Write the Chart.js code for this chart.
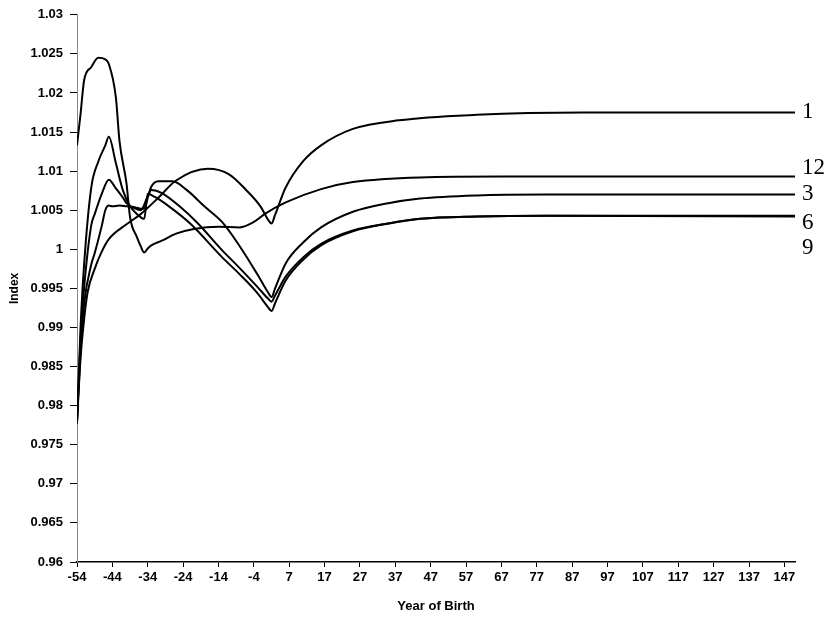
<!DOCTYPE html>
<html>
<head>
<meta charset="utf-8">
<script src="https://cdn.jsdelivr.net/npm/chart.js@4/dist/chart.umd.min.js"></script>
<style>
  html, body { margin: 0; padding: 0; background: #fff; }
  canvas { display: block; }
</style>
</head>
<body>
<canvas id="myChart" width="829" height="618"></canvas>
<script>
// year of birth tick labels (there is no year 0 on the axis)
const xTickLabels = [-54,-44,-34,-24,-14,-4,7,17,27,37,47,57,67,77,87,97,107,117,127,137,147];
const yMin = 0.96, yMax = 1.03, yStep = 0.005;

// series "1"
const years1 = [-54,-53,-52,-51,-49,-47,-45,-40,-36,-31,-26,-17,-11,-6,-2,1,2,3,6,11,16,25,38,60,90,150];
const vals1  = [0.978,0.986,0.991,0.9945,0.9975,0.9997,1.0013,1.0032,1.0045,1.0066,1.0088,1.0103,1.0096,1.0075,1.0054,1.0038,1.0033,1.0044,1.0079,1.0113,1.0133,1.0154,1.0165,1.0172,1.0175,1.0175];

// series "12"
const years12 = [-54,-53,-52,-50,-48,-46,-45,-43,-42,-40,-39,-37,-36,-35,-34,-33,-30,-26,-21,-14,-8,-4,-1,6,16,25,44,67,150];
const vals12  = [1.0133,1.0173,1.0216,1.0233,1.0245,1.0243,1.0237,1.0194,1.0139,1.0084,1.0041,1.0015,1.0004,0.9996,1.0001,1.0005,1.0011,1.002,1.0026,1.0029,1.0028,1.0035,1.0045,1.006,1.0077,1.0086,1.0092,1.0093,1.0093];

// series "3"
const years3 = [-54,-53,-52,-50,-49,-47,-46,-45,-44,-42,-40,-38,-36,-35,-34,-33,-31,-27,-23,-18,-13,-8,-3,1,2,3,6,11,16,25,35,44,60,80,150];
const vals3  = [0.978,0.987,0.993,0.998,0.9995,1.003,1.005,1.0056,1.0055,1.0056,1.0055,1.0054,1.0052,1.0052,1.0066,1.008,1.0087,1.0087,1.0076,1.0055,1.0035,1.0004,0.9968,0.9945,0.9939,0.995,0.9982,1.0009,1.0028,1.0048,1.0059,1.0065,1.0069,1.007,1.007];

// series "6"
const years6 = [-54,-53,-52,-50,-49,-47,-45,-43,-41,-40,-38,-36,-34,-33,-30,-25,-20,-13,-8,-3,1,2,3,6,11,16,25,35,44,60,80,150];
const vals6  = [0.978,0.9885,0.995,1.003,1.0045,1.0071,1.0089,1.0078,1.0066,1.0059,1.0053,1.005,1.0068,1.0076,1.0072,1.0055,1.0034,0.9999,0.9976,0.9952,0.9937,0.9933,0.9941,0.9965,0.999,1.0007,1.0024,1.0033,1.0039,1.0042,1.0043,1.0043];

// series "9"
const years9 = [-54,-53,-52,-50,-48,-46,-45,-43,-41,-39,-37,-35,-34,-32,-28,-22,-13,-8,-3,1,2,3,6,11,16,25,35,44,60,80,150];
const vals9  = [0.9777,0.99,0.998,1.0078,1.0112,1.0133,1.0144,1.011,1.0075,1.0055,1.0045,1.0039,1.0071,1.0067,1.0055,1.0033,0.999,0.9968,0.9944,0.9926,0.9921,0.9931,0.996,0.9987,1.0005,1.0023,1.0033,1.0039,1.0042,1.0043,1.0042];

const seriesNames = ['1','12','3','6','9'];

function pos(y) { return y > 0 ? y - 1 : y; }
function pts(ys, vs) { return ys.map((y, k) => ({ x: pos(y), y: vs[k] })); }

const allSeries = [pts(years1, vals1), pts(years12, vals12), pts(years3, vals3), pts(years6, vals6), pts(years9, vals9)];

// where the end labels sit (index value)
const endLabelAt = [1.0176, 1.01045, 1.0071, 1.0034, 1.0002];

const endLabels = {
  id: 'endLabels',
  afterDraw(chart) {
    const c = chart.ctx, ys = chart.scales.y;
    c.save();
    c.fillStyle = '#000';
    c.font = '23px "Liberation Serif", "Times New Roman", serif';
    c.textBaseline = 'middle';
    c.textAlign = 'left';
    seriesNames.forEach((n, i) => {
      c.fillText(n, chart.chartArea.right + 7, ys.getPixelForValue(endLabelAt[i]));
    });
    c.restore();
  }
};

const ctx = document.getElementById('myChart');
const myChart = new Chart(ctx, {
  type: 'line',
  data: {
    datasets: allSeries.map((d, i) => ({
      label: seriesNames[i],
      data: d,
      borderColor: '#000',
      borderWidth: 2,
      pointRadius: 0,
      fill: false,
      cubicInterpolationMode: 'monotone'
    }))
  },
  options: {
    responsive: false,
    animation: false,
    devicePixelRatio: 1,
    layout: { padding: { left: 0, top: 14, right: 34, bottom: 0 } },
    plugins: { legend: { display: false }, tooltip: { enabled: false } },
    scales: {
      x: {
        type: 'linear',
        min: pos(-54),
        max: pos(150),
        afterBuildTicks: s => { s.ticks = xTickLabels.map(v => ({ value: pos(v) })); },
        afterFit: s => { s.height = 56; },
        ticks: {
          color: '#000',
          font: { family: '"Liberation Sans", Arial, sans-serif', size: 13, weight: 'bold' },
          padding: 3,
          maxRotation: 0,
          autoSkip: false,
          callback: v => {
            const i = xTickLabels.findIndex(t => pos(t) === v);
            return i >= 0 ? String(xTickLabels[i]) : '';
          }
        },
        grid: { drawOnChartArea: false, drawTicks: true, tickLength: 5, color: '#000' },
        border: { display: true, color: '#000', width: 1.5 },
        title: {
          display: true,
          text: 'Year of Birth',
          color: '#000',
          font: { family: '"Liberation Sans", Arial, sans-serif', size: 13, weight: 'bold' },
          padding: { top: 3, bottom: 4 }
        }
      },
      y: {
        min: yMin,
        max: yMax,
        afterFit: s => { s.width = 77; },
        ticks: {
          stepSize: yStep,
          color: '#000',
          padding: 7,
          font: { family: '"Liberation Sans", Arial, sans-serif', size: 13, weight: 'bold' },
          callback: v => String(Number(v.toFixed(3)))
        },
        grid: { drawOnChartArea: false, drawTicks: true, tickLength: 7, color: '#000' },
        border: { display: true, color: '#888', width: 1, dash: [2, 3] },
        title: {
          display: true,
          text: 'Index',
          color: '#000',
          font: { family: '"Liberation Sans", Arial, sans-serif', size: 12, weight: 'bold' },
          padding: { top: 7, bottom: 0 }
        }
      }
    }
  },
  plugins: [endLabels]
});
</script>
</body>
</html>
